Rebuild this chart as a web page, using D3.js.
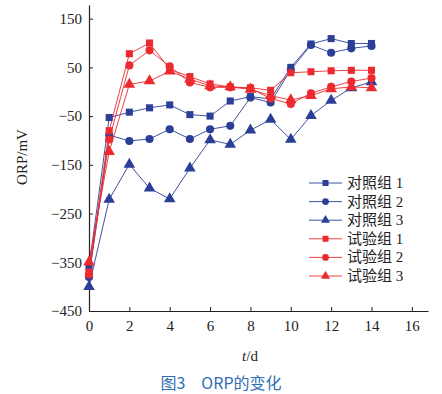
<!DOCTYPE html>
<html>
<head>
<meta charset="utf-8">
<script src="https://cdn.jsdelivr.net/npm/d3@7"></script>
<style>
  body { margin: 0; background: #fff; }
  svg { display: block; }
</style>
</head>
<body>
<script>
// data
const days = [0, 1, 2, 3, 4, 5, 6, 7, 8, 9, 10, 11, 12, 13, 14];
const seriesNames = ["对照组 1", "对照组 2", "对照组 3", "试验组 1", "试验组 2", "试验组 3"];
const control1 = [-360, -53, -42, -33, -27, -47, -50, -19, -10, -15, 50, 98, 109, 99, 99];
const control2 = [-380, -89, -101, -97, -77, -97, -77, -70, -12, -22, 45, 96, 80, 89, 94];
const control3 = [-400, -221, -149, -198, -220, -157, -99, -108, -79, -57, -98, -49, -18, 8, 20];
const test1 = [-370, -80, 78, 100, 46, 31, 16, 10, 8, 3, 39, 41, 43, 44, 44];
const test2 = [-375, -98, 54, 85, 52, 19, 9, 9, 7, -14, -25, -3, 10, 21, 28];
const test3 = [-350, -123, 15, 22, 42, 26, 12, 10, 5, -8, -17, -8, 6, 10, 8];
const yTicks = [-450, -350, -250, -150, -50, 50, 150];
const xTicks = [0, 2, 4, 6, 8, 10, 12, 14, 16];

const blue = "#2b3f98";
const red = "#ec2a2f";

const series = [
  { name: seriesNames[0], values: control1, color: blue, shape: d3.symbolSquare },
  { name: seriesNames[1], values: control2, color: blue, shape: d3.symbolCircle },
  { name: seriesNames[2], values: control3, color: blue, shape: d3.symbolTriangle },
  { name: seriesNames[3], values: test1, color: red, shape: d3.symbolSquare },
  { name: seriesNames[4], values: test2, color: red, shape: d3.symbolCircle },
  { name: seriesNames[5], values: test3, color: red, shape: d3.symbolTriangle }
];

const width = 442, height = 394;
const serif = "'Liberation Serif', 'Times New Roman', 'Noto Sans CJK SC', serif";

const svg = d3.select("body").append("svg")
  .attr("width", width)
  .attr("height", height);

const x = d3.scaleLinear().domain([0, 16.8]).range([89, 428]);
const y = d3.scaleLinear().domain([-450, 178]).range([311, 5]);

// axes
const xAxis = svg.append("g")
  .attr("transform", `translate(0,${y(-450)})`)
  .call(d3.axisBottom(x).tickValues(xTicks).tickSizeInner(-4).tickSizeOuter(0).tickPadding(9));
const yAxis = svg.append("g")
  .attr("transform", `translate(${x(0)},0)`)
  .call(d3.axisLeft(y).tickValues(yTicks).tickSizeInner(-4).tickSizeOuter(0).tickPadding(7)
    .tickFormat(d => d < 0 ? "\u2212" + Math.abs(d) : d));

[xAxis, yAxis].forEach(g => {
  g.select(".domain").attr("stroke", "#222").attr("stroke-width", 1.2);
  g.selectAll(".tick line").attr("stroke", "#222");
  g.selectAll(".tick text")
    .attr("fill", "#222")
    .style("font-family", serif)
    .style("font-size", "15px");
});

// lines + markers
const line = d3.line()
  .x((d, i) => x(days[i]))
  .y(d => y(d));

series.forEach(s => {
  svg.append("path")
    .datum(s.values)
    .attr("fill", "none")
    .attr("stroke", s.color)
    .attr("stroke-width", 0.9)
    .attr("d", line);
});

series.forEach(s => {
  const size = s.shape === d3.symbolTriangle ? 58 : (s.shape === d3.symbolSquare ? 50 : 52);
  svg.append("g").selectAll("path")
    .data(s.values)
    .join("path")
    .attr("transform", (d, i) => `translate(${x(days[i])},${y(d)})`)
    .attr("d", d3.symbol().type(s.shape).size(size))
    .attr("fill", s.color);
});

// legend
const legend = svg.append("g").attr("transform", "translate(309,183)");
series.forEach((s, i) => {
  const row = legend.append("g").attr("transform", `translate(0,${i * 18.6})`);
  row.append("line")
    .attr("x1", 0).attr("x2", 33)
    .attr("stroke", s.color).attr("stroke-width", 0.9);
  row.append("path")
    .attr("transform", "translate(16.5,0)")
    .attr("d", d3.symbol().type(s.shape).size(36))
    .attr("fill", s.color);
  row.append("text")
    .attr("x", 38).attr("y", 5)
    .attr("fill", "#222")
    .style("font-family", serif)
    .style("font-size", "15px")
    .text(s.name);
});

// axis titles
svg.append("text")
  .attr("transform", `translate(27,157) rotate(-90)`)
  .attr("text-anchor", "middle")
  .attr("fill", "#222")
  .style("font-family", serif)
  .style("font-size", "15px")
  .text("ORP/mV");

const xt = svg.append("text")
  .attr("x", 250).attr("y", 361)
  .attr("text-anchor", "middle")
  .attr("fill", "#222")
  .style("font-family", serif)
  .style("font-size", "15px");
xt.append("tspan").style("font-style", "italic").text("t");
xt.append("tspan").text("/d");

svg.append("text")
  .attr("x", 221).attr("y", 389)
  .attr("text-anchor", "middle")
  .attr("fill", "#2f6db4")
  .style("font-family", "'Noto Sans CJK SC', sans-serif")
  .style("font-size", "16px")
  .style("font-weight", "normal")
  .text("图3\u2003ORP的变化");
</script>
</body>
</html>
